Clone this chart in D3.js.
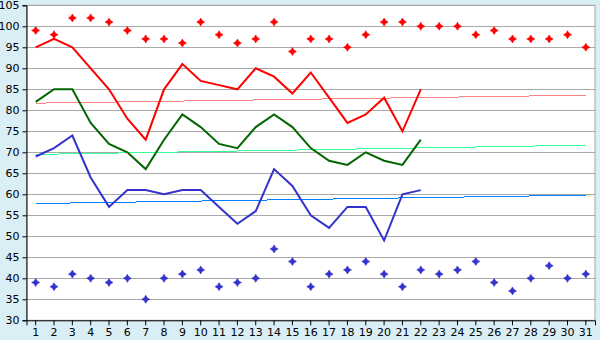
<!DOCTYPE html>
<html>
<head>
<meta charset="utf-8">
<script src="https://cdn.jsdelivr.net/npm/d3@7"></script>
<style>
  html, body { margin: 0; padding: 0; background: #daeef5; }
  svg { display: block; }
  .tick text { font-family: "DejaVu Sans", Verdana, sans-serif; font-size: 11px; fill: #000; }
</style>
</head>
<body>
<div class="chart"></div>
<script>
var days = d3.range(1, 32);
var yTicks = d3.range(30, 106, 5);

// lines (days 1-22)
var redLine   = [95, 97, 95, 90, 85, 78, 73, 85, 91, 87, 86, 85, 90, 88, 84, 89, 83, 77, 79, 83, 75, 85];
var greenLine = [82, 85, 85, 77, 72, 70, 66, 73, 79, 76, 72, 71, 76, 79, 76, 71, 68, 67, 70, 68, 67, 73];
var blueLine  = [69, 71, 74, 64, 57, 61, 61, 60, 61, 61, 57, 53, 56, 66, 62, 55, 52, 57, 57, 49, 60, 61];

// markers (days 1-31)
var redDots  = [99, 98, 102, 102, 101, 99, 97, 97, 96, 101, 98, 96, 97, 101, 94, 97, 97, 95, 98, 101, 101, 100, 100, 100, 98, 99, 97, 97, 97, 98, 95];
var blueDots = [39, 38, 41, 40, 39, 40, 35, 40, 41, 42, 38, 39, 40, 47, 44, 38, 41, 42, 44, 41, 38, 42, 41, 42, 44, 39, 37, 40, 43, 40, 41];

// trend lines: value at day 1 and day 31
var redTrend   = [81.7, 83.6];
var greenTrend = [69.5, 71.7];
var blueTrend  = [57.8, 59.8];

var chart = {
  width: 600, height: 340,
  left: 26.5, right: 595, top: 5.3, bottom: 320.3,

  draw: function(){
    var svg = d3.select(".chart").append("svg")
      .attr("width", chart.width)
      .attr("height", chart.height);

    var x = d3.scaleBand().domain(days).range([chart.left, chart.right]);
    var cx = function(d){ return x(d) + x.bandwidth() / 2; };
    var y = d3.scaleLinear().domain([30, 105]).range([chart.bottom, chart.top]);

    // plot background + frame
    svg.append("rect")
      .attr("x", chart.left).attr("y", chart.top)
      .attr("width", chart.right - chart.left).attr("height", chart.bottom - chart.top)
      .attr("fill", "#fff").attr("stroke", "#a8a8a8");

    // grid
    svg.append("g").selectAll("line")
      .data(yTicks.filter(function(t){ return t > 30; }))
      .enter().append("line")
        .attr("x1", chart.left).attr("x2", chart.right)
        .attr("y1", function(d){ return Math.round(y(d)) + 0.5; })
        .attr("y2", function(d){ return Math.round(y(d)) + 0.5; })
        .attr("stroke", "#a8a8a8");

    // axes
    var yAxis = svg.append("g")
      .attr("transform", "translate(" + chart.left + ",0)")
      .call(d3.axisLeft(y).tickValues(yTicks).tickSize(4).tickPadding(3));
    var xAxis = svg.append("g")
      .attr("transform", "translate(0," + chart.bottom + ")")
      .call(d3.axisBottom(x).tickSize(5).tickPadding(3));
    [yAxis, xAxis].forEach(function(a){
      a.select(".domain").attr("stroke", "#000");
      a.selectAll(".tick line").attr("stroke", "#000");
    });

    // trend lines
    var trends = [[redTrend, "#ff8080"], [greenTrend, "#33ff99"], [blueTrend, "#0080ff"]];
    trends.forEach(function(t){
      svg.append("line")
        .attr("x1", cx(1)).attr("x2", cx(31))
        .attr("y1", y(t[0][0])).attr("y2", y(t[0][1]))
        .attr("stroke", t[1]).attr("stroke-width", 1)
        .attr("shape-rendering", "crispEdges");
    });

    // data lines
    var line = d3.line()
      .x(function(d, i){ return cx(days[i]); })
      .y(function(d){ return y(d); });
    [[redLine, "#ff0000"], [greenLine, "#006600"], [blueLine, "#3333cc"]].forEach(function(s){
      svg.append("path")
        .attr("d", line(s[0]))
        .attr("fill", "none")
        .attr("stroke", s[1])
        .attr("stroke-width", 2);
    });

    // markers: small square diamonds
    var diamond = "M0,-4L1.5,-1.5L4,0L1.5,1.5L0,4L-1.5,1.5L-4,0L-1.5,-1.5Z";
    [[redDots, "#ff0000"], [blueDots, "#3333cc"]].forEach(function(s){
      svg.append("g").selectAll("path")
        .data(s[0])
        .enter().append("path")
          .attr("d", diamond)
          .attr("transform", function(d, i){ return "translate(" + cx(days[i]) + "," + y(d) + ")"; })
          .attr("fill", s[1])
          .attr("stroke", s[1])
          .attr("stroke-width", 0.6);
    });
  }
};

chart.draw();
</script>
</body>
</html>
